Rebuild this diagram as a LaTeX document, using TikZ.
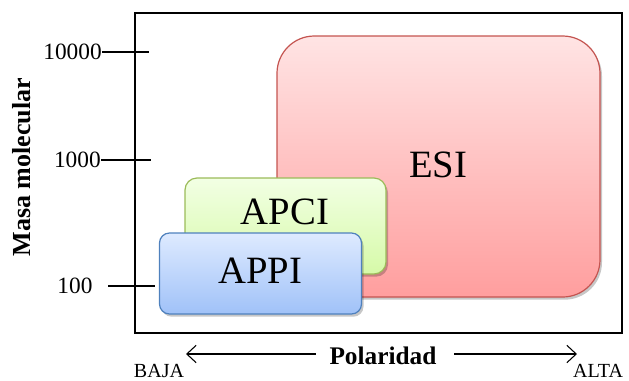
\documentclass[tikz,border=0pt]{standalone}
\usepackage{fontspec}
\setmainfont{Liberation Serif}
\usetikzlibrary{arrows.meta,shadows}

\definecolor{esitop}{RGB}{255,228,228}
\definecolor{esibot}{RGB}{255,158,158}
\definecolor{esiline}{RGB}{196,84,80}
\definecolor{apcitop}{RGB}{242,255,228}
\definecolor{apcibot}{RGB}{214,250,168}
\definecolor{apciline}{RGB}{155,187,89}
\definecolor{appitop}{RGB}{222,234,255}
\definecolor{appibot}{RGB}{160,194,248}
\definecolor{appiline}{RGB}{79,129,189}

\tikzset{
  zone/.style={draw, line width=0.9pt, inner sep=0pt,
    drop shadow={shadow xshift=1.5pt, shadow yshift=-2pt, opacity=0.22, fill=black}},
  zonetext/.style={font=\fontsize{29}{31}\selectfont, inner sep=0pt},
  ticklabel/.style={font=\fontsize{17.5}{19}\selectfont, inner sep=0pt},
  tickline/.style={line width=0.9pt},
  extreme/.style={font=\fontsize{15}{17}\selectfont, inner sep=0pt},
  polarrow/.style={line width=0.8pt, -{Straight Barb[length=7pt,width=13pt,line width=0.8pt]}}
}

\begin{document}
\begin{tikzpicture}[x=0.75pt,y=-0.75pt]
\useasboundingbox (0,0) rectangle (629,380);

% plot frame
\node[draw, line width=1.1pt, minimum width=365.25pt, minimum height=240pt, inner sep=0pt]
  (frame) at (378.5,173) {};

% ionisation zones, back to front
\node[zone, draw=esiline, top color=esitop, bottom color=esibot,
      minimum width=242.25pt, minimum height=195.75pt, rounded corners=28pt]
  (esi) at (438.5,166.5) {};
\node[zonetext] (esitxt) at (438,165) {ESI};

\node[zone, draw=apciline, top color=apcitop, bottom color=apcibot,
      minimum width=150.75pt, minimum height=72pt, rounded corners=9pt]
  (apci) at (285.5,226) {};
\node[zonetext] (apcitxt) at (285,212) {APCI};

\node[zone, draw=appiline, top color=appitop, bottom color=appibot,
      minimum width=151.5pt, minimum height=60.75pt, rounded corners=7.5pt]
  (appi) at (260.5,273.5) {};
\node[zonetext] (appitxt) at (260,271) {APPI};

% molecular mass ticks
\node[ticklabel, anchor=east] (m4) at (102,52) {10000};
\coordinate (m4end) at (149,52);
\draw[tickline] (m4.east) -- (m4end);

\node[ticklabel, anchor=east] (m3) at (101,160) {1000};
\coordinate (m3end) at (151,160);
\draw[tickline] (m3.east) -- (m3end);

\node[ticklabel] (m2) at (75,286) {100};
\coordinate (m2start) at (108,286);
\coordinate (m2end) at (155,286);
\draw[tickline] (m2start) -- (m2end);

% axis titles
\node[font=\bfseries\fontsize{19.5}{21}\selectfont, rotate=90, inner sep=0pt]
  (ylab) at (22,167) {Masa molecular};

\node[font=\bfseries\fontsize{19}{21}\selectfont, inner sep=0pt]
  (pol) at (383,356) {Polaridad};
\coordinate (lowend) at (186,354);
\coordinate (highend) at (577,354);
\draw[polarrow] ([xshift=-10pt]pol.west |- lowend) -- (lowend);
\draw[polarrow] ([xshift=13pt]pol.east |- highend) -- (highend);

\node[extreme] (baja) at (159,371) {BAJA};
\node[extreme] (alta) at (598,371) {ALTA};
\end{tikzpicture}
\end{document}
